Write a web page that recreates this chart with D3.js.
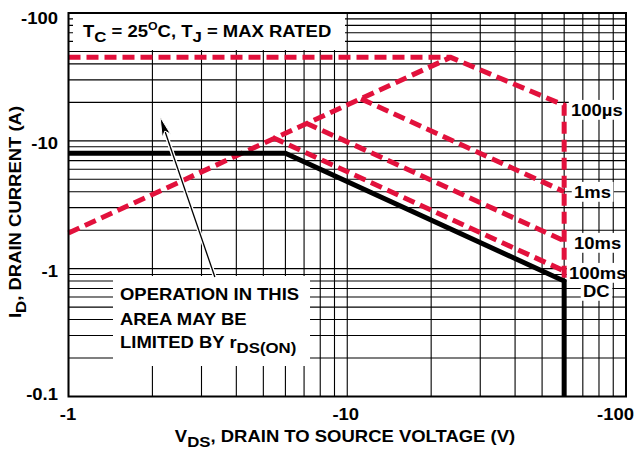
<!DOCTYPE html>
<html><head><meta charset="utf-8">
<script src="https://cdn.jsdelivr.net/npm/d3@7"></script>
<style>
body{margin:0;background:#fff}
svg{display:block}
text{font-family:"Liberation Sans",Arial,Helvetica,sans-serif;font-weight:bold;fill:#000}
</style>
</head><body>
<svg id="c" width="636" height="450"></svg>
<script>
// ---- data (magnitudes; labels carry the minus sign) ----
const xTickValues = [1, 10, 100];
const xTickLabels = ["-1", "-10", "-100"];
const yTickValues = [0.1, 1, 10, 100];
const yTickLabels = ["-0.1", "-1", "-10", "-100"];
const dcLimit    = [[1, 8], [6, 8], [60, 0.8], [60, 0.1]];
const rdsLimit   = [[1, 1.9], [23.5, 45]];
const pulse100us = [[1, 45], [23.5, 45], [60, 19], [60, 0.8]];
const pulse1ms   = [[11.2, 21.3], [60, 4.0]];
const pulse10ms  = [[7.1, 13.8], [60, 1.65]];
const pulse100ms = [[5.4, 10.6], [60, 0.96]];
const curveLabels = ["100µs", "1ms", "10ms", "100ms", "DC"];
const arrowPts = [[3.35, 0.86], [2.13, 15.4]];

const svg = d3.select("#c");
const L = 68.5, R = 626, T = 13, B = 396.5;
const x = d3.scaleLog().domain([1, 100]).range([L, R]);
const y = d3.scaleLog().domain([0.1, 100]).range([B, T]);
const RED = "#e2113c";
const SX = 1.12, FS = 16.5;

// grid
const minors = [];
[1, 10].forEach(d => { for (let k = 1; k <= 9; k++) minors.push(d * k); });
const yMinors = [];
[0.1, 1, 10].forEach(d => { for (let k = 1; k <= 9; k++) yMinors.push(d * k); });
const grid = svg.append("g").attr("stroke", "#000").attr("stroke-width", 1.1);
grid.selectAll("line.v").data(minors.concat([100])).join("line")
  .attr("x1", d => x(d)).attr("x2", d => x(d)).attr("y1", T).attr("y2", B);
grid.selectAll("line.h").data(yMinors.concat([100])).join("line")
  .attr("y1", d => y(d)).attr("y2", d => y(d)).attr("x1", L).attr("x2", R);

// white boxes behind annotations
svg.append("rect").attr("x", 73).attr("y", T + 1).attr("width", 272).attr("height", 36).attr("fill", "#fff");
svg.append("rect").attr("x", 113).attr("y", 276).attr("width", 197).attr("height", 90).attr("fill", "#fff");

// text helper
function rich(parent, px, py, segs, anchor = "start", rot = 0) {
  const g = parent.append("g").attr("transform", `translate(${px},${py}) rotate(${rot}) scale(${SX},1)`);
  const t = g.append("text").attr("text-anchor", anchor).style("font-size", FS + "px");
  let cur = 0;
  segs.forEach(s => {
    const seg = typeof s === "string" ? { t: s } : s;
    const off = seg.sub ? 5 : seg.sup ? -7 : 0;
    const ts = t.append("tspan").text(seg.t).attr("dy", off - cur);
    if (seg.sub) ts.style("font-size", "15px");
    if (seg.sup) ts.style("font-size", "11px");
    cur = off;
  });
  return g;
}

// right-side curve labels with white background
const labelPos = [[571, 116], [574, 198], [574, 249], [569, 279], [583, 297]];
const lg = svg.append("g");
curveLabels.forEach((lab, i) => {
  const g = rich(lg, labelPos[i][0], labelPos[i][1], [lab]);
  const bb = g.node().getBBox();
  g.insert("rect", "text").attr("x", bb.x - 2).attr("y", bb.y - 1)
    .attr("width", bb.width + 4).attr("height", bb.height + 1).attr("fill", "#fff");
});

// curves
const line = d3.line().x(d => x(d[0])).y(d => y(d[1]));
[pulse100us, rdsLimit, pulse1ms, pulse10ms, pulse100ms].forEach(p => {
  svg.append("path").attr("d", line(p)).attr("fill", "none").attr("stroke", RED)
    .attr("stroke-width", 5).attr("stroke-dasharray", "12,6");
});
svg.append("path").attr("d", line(dcLimit)).attr("fill", "none").attr("stroke", "#000")
  .attr("stroke-width", 5).attr("stroke-linejoin", "miter");

// frame
svg.append("rect").attr("x", L).attr("y", T).attr("width", R - L).attr("height", B - T)
  .attr("fill", "none").attr("stroke", "#000").attr("stroke-width", 2);

// arrow
const a0 = [x(arrowPts[0][0]), y(arrowPts[0][1])], a1 = [x(arrowPts[1][0]), y(arrowPts[1][1])];
const dx = a1[0] - a0[0], dy = a1[1] - a0[1], len = Math.hypot(dx, dy);
const ux = dx / len, uy = dy / len, hl = 20, hw = 4.5;
const bx = a1[0] - ux * hl, by = a1[1] - uy * hl;
svg.append("line").attr("x1", a0[0]).attr("y1", a0[1]).attr("x2", bx).attr("y2", by)
  .attr("stroke", "#fff").attr("stroke-width", 4);
svg.append("line").attr("x1", a0[0]).attr("y1", a0[1]).attr("x2", bx + ux * 4).attr("y2", by + uy * 4)
  .attr("stroke", "#000").attr("stroke-width", 1.3);
svg.append("polygon").attr("points", [
  [a1[0], a1[1]], [bx - uy * hw, by + ux * hw], [bx + ux * 5, by + uy * 5], [bx + uy * hw, by - ux * hw]
].map(p => p.join(",")).join(" ")).attr("fill", "#000").attr("stroke", "#fff").attr("stroke-width", 1);

// axes (labels only)
const xa = svg.append("g").attr("transform", `translate(0,${B})`)
  .call(d3.axisBottom(x).tickValues(xTickValues).tickFormat((d, i) => xTickLabels[i]).tickSize(0).tickPadding(0));
xa.select(".domain").remove();
const xNudge = [-1, -2, -11];
xa.selectAll("text").attr("dy", null).attr("y", 23.5).style("font-size", FS + "px")
  .attr("font-family", null).attr("fill", "#000")
  .attr("transform", (d, i) => `translate(${xNudge[i]},0) scale(${SX},1)`);
const ya = svg.append("g").attr("transform", `translate(${L},0)`)
  .call(d3.axisLeft(y).tickValues(yTickValues).tickFormat((d, i) => yTickLabels[i]).tickSize(0).tickPadding(0));
ya.select(".domain").remove();
const yNudge = [-3, 1.8, 1.7, 4.5];
ya.selectAll("text").attr("dy", null).attr("x", -10.5 / SX).attr("y", (d, i) => 5.8 + yNudge[i])
  .style("font-size", FS + "px").attr("font-family", null).attr("fill", "#000")
  .attr("transform", `scale(${SX},1)`);

// annotations
rich(svg, 83, 37, ["T", { t: "C", sub: true }, " = 25", { t: "O", sup: true }, "C, T", { t: "J", sub: true }, " = MAX RATED"]);
rich(svg, 120, 300, ["OPERATION IN THIS"]);
rich(svg, 120, 325, ["AREA MAY BE"]);
rich(svg, 120, 348, ["LIMITED BY r", { t: "DS(ON)", sub: true }]);
rich(svg, 345, 442, ["V", { t: "DS", sub: true }, ", DRAIN TO SOURCE VOLTAGE (V)"], "middle");
rich(svg, 21, 212, ["I", { t: "D", sub: true }, ", DRAIN CURRENT (A)"], "middle", -90);
</script>
</body></html>
